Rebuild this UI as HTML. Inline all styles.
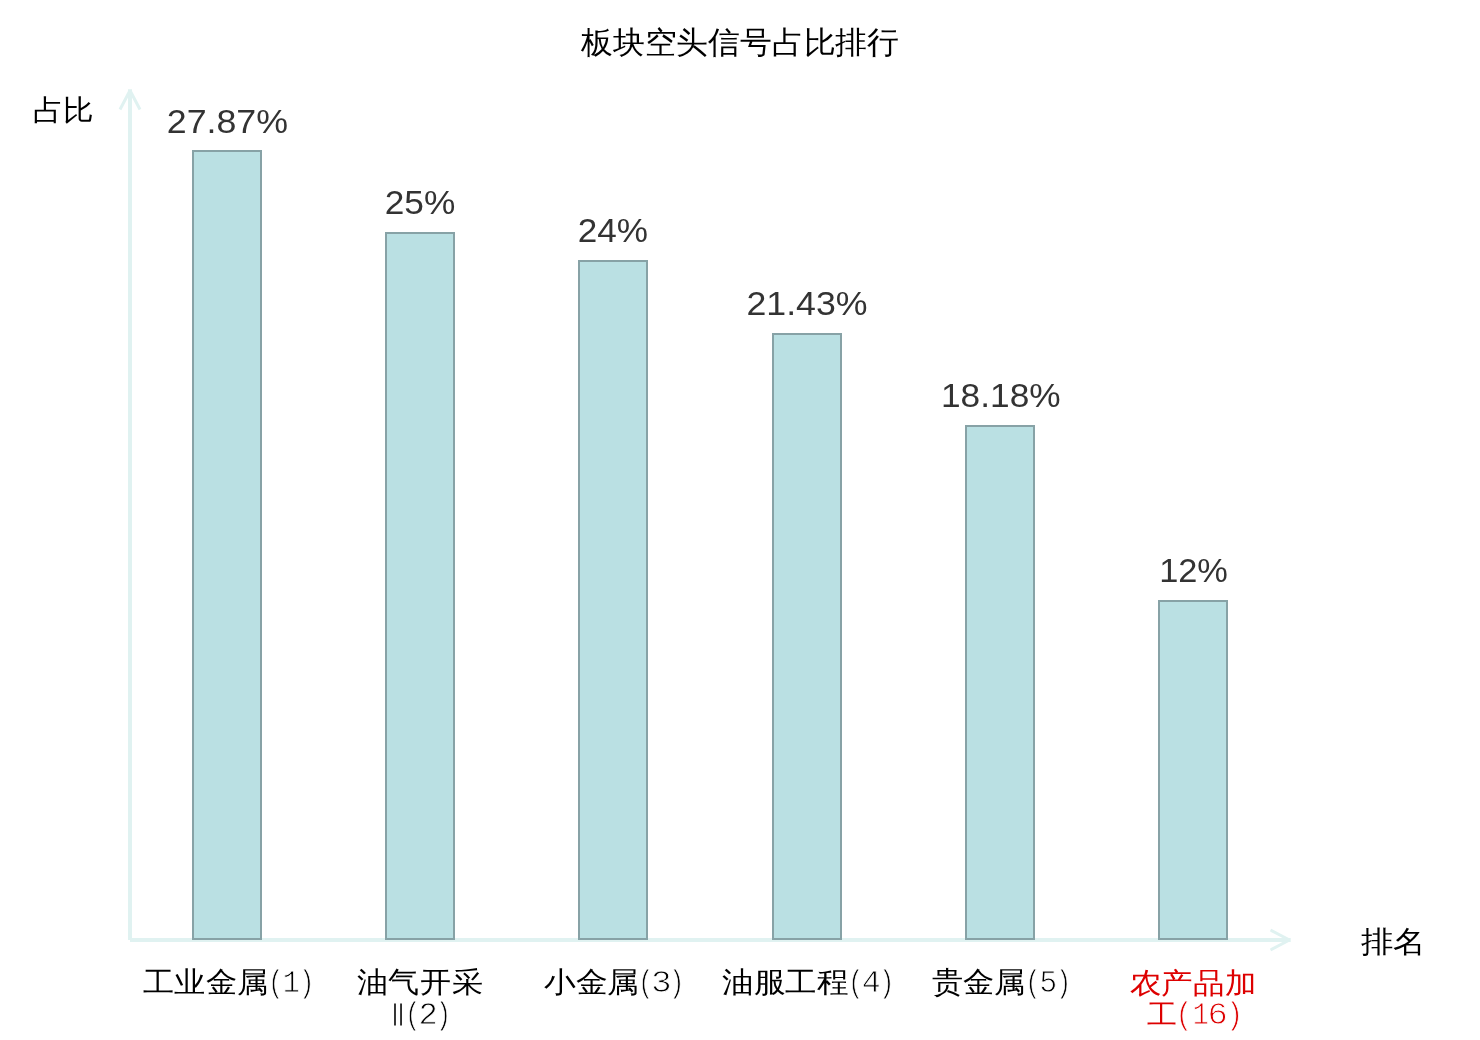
<!DOCTYPE html>
<html lang="zh">
<head>
<meta charset="utf-8">
<title>板块空头信号占比排行</title>
<style>
html,body{margin:0;padding:0;background:#fff;}
body{width:1480px;height:1040px;position:relative;overflow:hidden;font-family:"Liberation Sans",sans-serif;}
svg{position:absolute;left:0;top:0;}
.t{position:absolute;white-space:nowrap;line-height:1;transform-origin:0 0;mix-blend-mode:multiply;}
.d{display:inline-block;}

</style>
</head>
<body>
<svg width="1480" height="1040" viewBox="0 0 1480 1040">
  <g stroke="#e0f2f1" fill="none">
    <line x1="130" y1="940" x2="130" y2="89.3" stroke-width="4"/>
    <line x1="130" y1="940" x2="1290.7" y2="940" stroke-width="4"/>
    <line x1="130" y1="90.5" x2="120" y2="109.5" stroke-width="3"/>
    <line x1="130" y1="90.5" x2="140" y2="109.5" stroke-width="3"/>
    <line x1="1289.5" y1="940" x2="1270.5" y2="930" stroke-width="3"/>
    <line x1="1289.5" y1="940" x2="1270.5" y2="950" stroke-width="3"/>
  </g>
  <g fill="#bae0e3" stroke="#87a2a6" stroke-width="2">
    <rect x="193" y="151" width="68" height="788"/>
    <rect x="386" y="233" width="68" height="706"/>
    <rect x="579" y="261" width="68" height="678"/>
    <rect x="773" y="334" width="68" height="605"/>
    <rect x="966" y="426" width="68" height="513"/>
    <rect x="1159" y="601" width="68" height="338"/>
  </g>
</svg>
<div class="t" id="title" style="left:580px;top:24px;font-family:'Liberation Sans', sans-serif;font-size:32px;color:#000;transform:matrix(0.9937,0,0,0.9677,1.00,3.00);">板块空头信号占比排行</div>
<div class="t" id="yname" style="left:34px;top:94px;font-family:'Liberation Sans', sans-serif;font-size:30px;color:#000;transform:matrix(1.0179,0,0,0.9655,-1.04,2.00);">占比</div>
<div class="t" id="xname" style="left:1360px;top:925px;font-family:'Liberation Sans', sans-serif;font-size:30px;color:#000;transform:matrix(1.0815,0,0,1.0000,0.52,2.00);">排名</div>
<div class="t" id="v1" style="left:170px;top:107px;font-family:'Liberation Sans', sans-serif;font-size:32px;color:#333;transform:matrix(1.1171,0,0,1.0455,-3.23,-2.23);">27.87%</div>
<div class="t" id="v2" style="left:388px;top:188px;font-family:'Liberation Sans', sans-serif;font-size:32px;color:#333;transform:matrix(1.1016,0,0,1.0318,-3.30,-2.06);">25%</div>
<div class="t" id="v3" style="left:580px;top:216px;font-family:'Liberation Sans', sans-serif;font-size:32px;color:#333;transform:matrix(1.0967,0,0,1.0409,-2.19,-2.20);">24%</div>
<div class="t" id="v4" style="left:750px;top:289px;font-family:'Liberation Sans', sans-serif;font-size:32px;color:#333;transform:matrix(1.1162,0,0,1.0591,-3.53,-2.50);">21.43%</div>
<div class="t" id="v5" style="left:944px;top:381px;font-family:'Liberation Sans', sans-serif;font-size:32px;color:#333;transform:matrix(1.1019,0,0,1.0455,-3.00,-2.23);">18.18%</div>
<div class="t" id="v6" style="left:1162px;top:556px;font-family:'Liberation Sans', sans-serif;font-size:32px;color:#333;transform:matrix(1.0738,0,0,1.0318,-2.85,-2.06);">12%</div>
<div class="t" id="c1a" style="left:143px;top:966px;font-family:'Liberation Sans', sans-serif;font-size:30px;color:#000;transform:matrix(1.0415,0,0,0.9655,0.10,2.00);">工业金属</div>
<div class="t" id="c1b" style="left:272px;top:966px;font-family:'Liberation Mono', monospace;font-size:30px;color:#000;-webkit-text-stroke:0.8px #fff;transform:matrix(0.8614,0,0,1.0286,-4.01,2.27);">(<span class="d" style="transform:scaleX(1.1)">1</span>)</div>
<div class="t" id="c2a" style="left:358px;top:966px;font-family:'Liberation Sans', sans-serif;font-size:30px;color:#000;transform:matrix(1.0508,0,0,0.9793,-1.05,1.60);">油气开采</div>
<div class="t" id="c2b" style="left:393px;top:1000px;font-family:'Liberation Mono', monospace;font-size:30px;color:#000;transform:matrix(0.6750,0,0,1.0043,-5.27,1.80);">Ⅱ</div>
<div class="t" id="c2c" style="left:409px;top:1000px;font-family:'Liberation Mono', monospace;font-size:30px;color:#000;-webkit-text-stroke:0.8px #fff;transform:matrix(0.8591,0,0,1.0179,-4.10,0.48);">(<span class="d" style="transform:scaleX(1.25)">2</span>)</div>
<div class="t" id="c3a" style="left:545px;top:966px;font-family:'Liberation Sans', sans-serif;font-size:30px;color:#000;transform:matrix(1.0437,0,0,0.9517,-0.74,2.10);">小金属</div>
<div class="t" id="c3b" style="left:642px;top:966px;font-family:'Liberation Mono', monospace;font-size:30px;color:#000;-webkit-text-stroke:0.8px #fff;transform:matrix(0.8614,0,0,1.0286,-4.01,2.27);">(<span class="d" style="transform:scaleX(1.33)">3</span>)</div>
<div class="t" id="c4a" style="left:723px;top:966px;font-family:'Liberation Sans', sans-serif;font-size:30px;color:#000;transform:matrix(1.0551,0,0,0.9690,-0.96,2.10);">油服工程</div>
<div class="t" id="c4b" style="left:852px;top:966px;font-family:'Liberation Mono', monospace;font-size:30px;color:#000;-webkit-text-stroke:0.8px #fff;transform:matrix(0.8614,0,0,1.0286,-4.01,2.27);">(<span class="d" style="transform:scaleX(1.22)">4</span>)</div>
<div class="t" id="c5a" style="left:932px;top:966px;font-family:'Liberation Sans', sans-serif;font-size:30px;color:#000;transform:matrix(1.0352,0,0,0.9600,-0.10,2.00);">贵金属</div>
<div class="t" id="c5b" style="left:1029px;top:966px;font-family:'Liberation Mono', monospace;font-size:30px;color:#000;-webkit-text-stroke:0.8px #fff;transform:matrix(0.8500,0,0,1.0286,-3.75,2.27);">(<span class="d" style="transform:scaleX(1.15)">5</span>)</div>
<div class="t" id="c6a" style="left:1130px;top:966px;font-family:'Liberation Sans', sans-serif;font-size:30px;color:#dd0000;transform:matrix(1.0655,0,0,0.9793,-0.47,2.10);">农产品加</div>
<div class="t" id="c6b" style="left:1147px;top:1000px;font-family:'Liberation Sans', sans-serif;font-size:30px;color:#dd0000;transform:matrix(0.9929,0,0,0.9250,0.00,1.05);">工</div>
<div class="t" id="c6c" style="left:1180px;top:1000px;font-family:'Liberation Mono', monospace;font-size:30px;color:#dd0000;-webkit-text-stroke:0.8px #fff;transform:matrix(0.9387,0,0,1.0143,-4.49,0.69);">(<span class="d" style="transform:scaleX(0.95)">1</span><span class="d" style="transform:scaleX(1.2)">6</span>)</div>
</body>
</html>
